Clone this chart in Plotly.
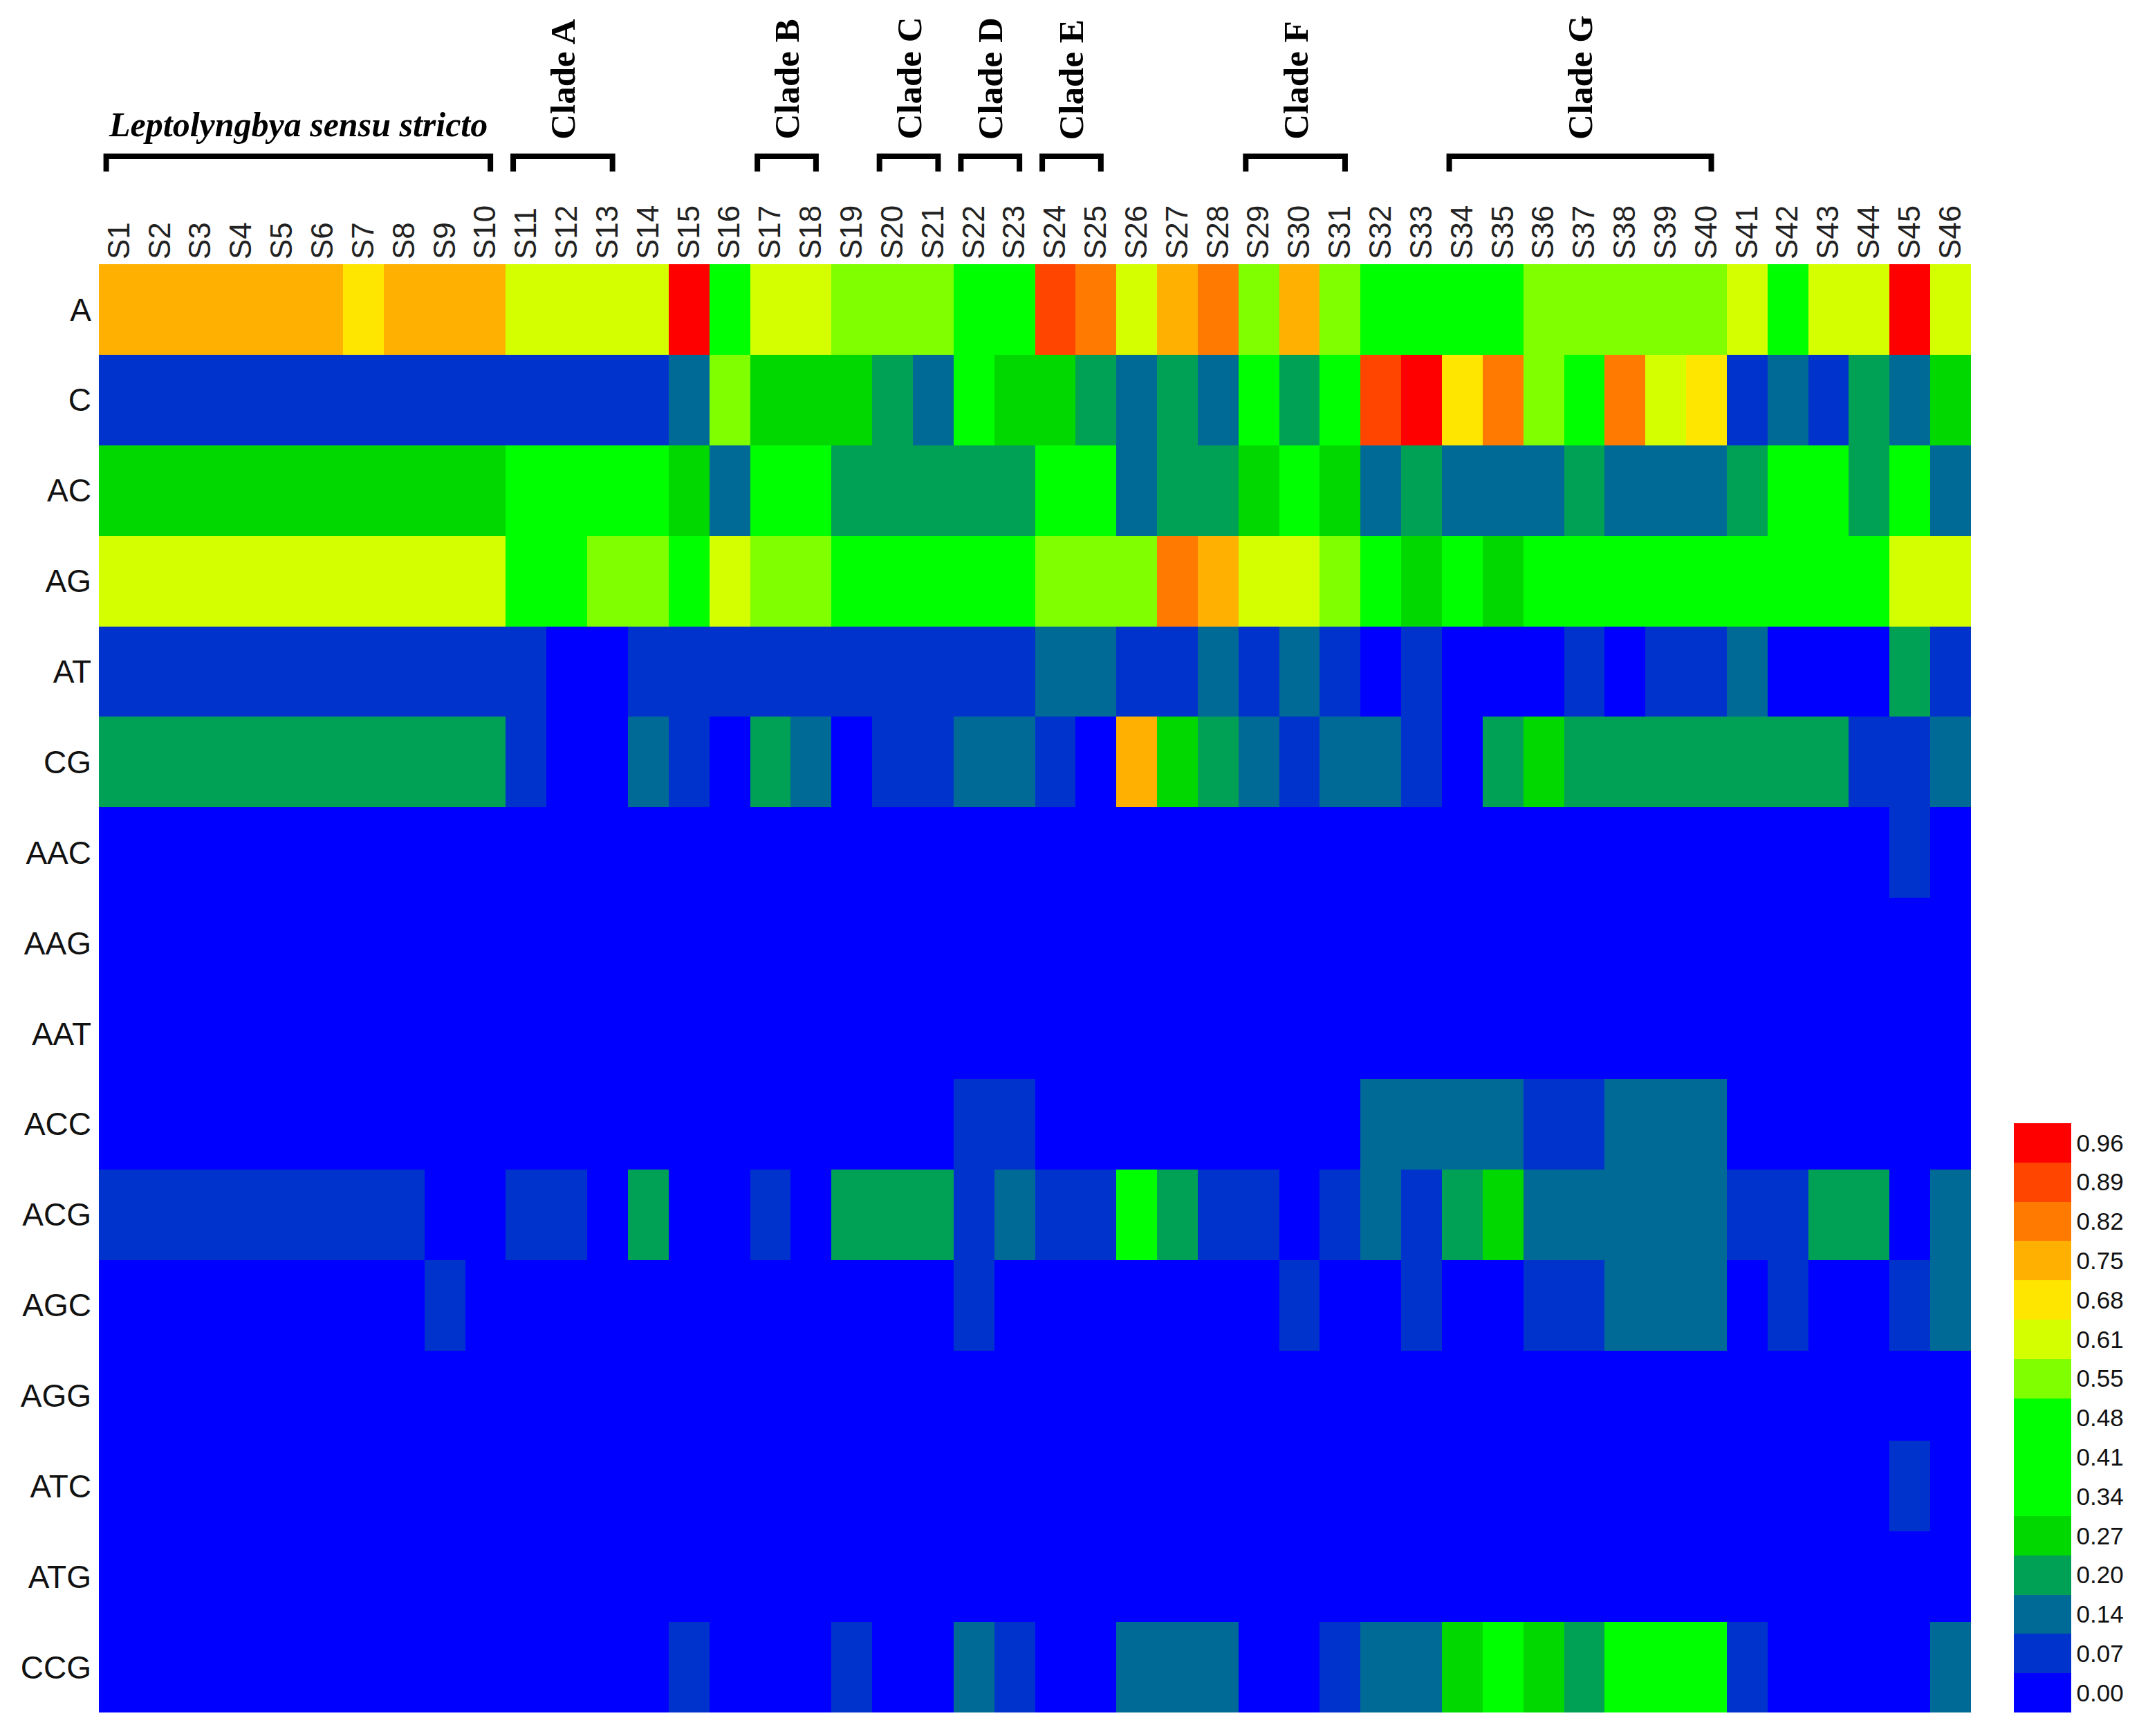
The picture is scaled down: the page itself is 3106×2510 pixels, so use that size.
import plotly.graph_objects as go

# ---------------- data ----------------
samples = [f"S{i}" for i in range(1, 47)]
rows = ["A", "C", "AC", "AG", "AT", "CG", "AAC", "AAG", "AAT", "ACC", "ACG",
        "AGC", "AGG", "ATC", "ATG", "CCG"]

#        S1   S2   S3   S4   S5   S6   S7   S8   S9   S10  S11  S12  S13  S14  S15  S16  S17  S18  S19  S20  S21  S22  S23  S24  S25  S26  S27  S28  S29  S30  S31  S32  S33  S34  S35  S36  S37  S38  S39  S40  S41  S42  S43  S44  S45  S46
row_A = [0.75,0.75,0.75,0.75,0.75,0.75,0.68,0.75,0.75,0.75,0.61,0.61,0.61,0.61,0.96,0.41,0.61,0.61,0.55,0.55,0.55,0.41,0.41,0.89,0.82,0.61,0.75,0.82,0.55,0.75,0.55,0.41,0.41,0.41,0.41,0.55,0.55,0.55,0.55,0.55,0.61,0.41,0.61,0.61,0.96,0.61]
row_C = [0.07,0.07,0.07,0.07,0.07,0.07,0.07,0.07,0.07,0.07,0.07,0.07,0.07,0.07,0.14,0.55,0.27,0.27,0.27,0.20,0.14,0.41,0.27,0.27,0.20,0.14,0.20,0.14,0.41,0.20,0.41,0.89,0.96,0.68,0.82,0.55,0.41,0.82,0.61,0.68,0.07,0.14,0.07,0.20,0.14,0.27]
row_AC = [0.27,0.27,0.27,0.27,0.27,0.27,0.27,0.27,0.27,0.27,0.41,0.41,0.41,0.41,0.27,0.14,0.41,0.41,0.20,0.20,0.20,0.20,0.20,0.41,0.41,0.14,0.20,0.20,0.27,0.41,0.27,0.14,0.20,0.14,0.14,0.14,0.20,0.14,0.14,0.14,0.20,0.41,0.41,0.20,0.41,0.14]
row_AG = [0.61,0.61,0.61,0.61,0.61,0.61,0.61,0.61,0.61,0.61,0.41,0.41,0.55,0.55,0.41,0.61,0.55,0.55,0.41,0.41,0.41,0.41,0.41,0.55,0.55,0.55,0.82,0.75,0.61,0.61,0.55,0.41,0.27,0.41,0.27,0.41,0.41,0.41,0.41,0.41,0.41,0.41,0.41,0.41,0.61,0.61]
row_AT = [0.07,0.07,0.07,0.07,0.07,0.07,0.07,0.07,0.07,0.07,0.07,0.00,0.00,0.07,0.07,0.07,0.07,0.07,0.07,0.07,0.07,0.07,0.07,0.14,0.14,0.07,0.07,0.14,0.07,0.14,0.07,0.00,0.07,0.00,0.00,0.00,0.07,0.00,0.07,0.07,0.14,0.00,0.00,0.00,0.20,0.07]
row_CG = [0.20,0.20,0.20,0.20,0.20,0.20,0.20,0.20,0.20,0.20,0.07,0.00,0.00,0.14,0.07,0.00,0.20,0.14,0.00,0.07,0.07,0.14,0.14,0.07,0.00,0.75,0.27,0.20,0.14,0.07,0.14,0.14,0.07,0.00,0.20,0.27,0.20,0.20,0.20,0.20,0.20,0.20,0.20,0.07,0.07,0.14]
row_AAC = [0.00,0.00,0.00,0.00,0.00,0.00,0.00,0.00,0.00,0.00,0.00,0.00,0.00,0.00,0.00,0.00,0.00,0.00,0.00,0.00,0.00,0.00,0.00,0.00,0.00,0.00,0.00,0.00,0.00,0.00,0.00,0.00,0.00,0.00,0.00,0.00,0.00,0.00,0.00,0.00,0.00,0.00,0.00,0.00,0.07,0.00]
row_AAG = [0.00,0.00,0.00,0.00,0.00,0.00,0.00,0.00,0.00,0.00,0.00,0.00,0.00,0.00,0.00,0.00,0.00,0.00,0.00,0.00,0.00,0.00,0.00,0.00,0.00,0.00,0.00,0.00,0.00,0.00,0.00,0.00,0.00,0.00,0.00,0.00,0.00,0.00,0.00,0.00,0.00,0.00,0.00,0.00,0.00,0.00]
row_AAT = [0.00,0.00,0.00,0.00,0.00,0.00,0.00,0.00,0.00,0.00,0.00,0.00,0.00,0.00,0.00,0.00,0.00,0.00,0.00,0.00,0.00,0.00,0.00,0.00,0.00,0.00,0.00,0.00,0.00,0.00,0.00,0.00,0.00,0.00,0.00,0.00,0.00,0.00,0.00,0.00,0.00,0.00,0.00,0.00,0.00,0.00]
row_ACC = [0.00,0.00,0.00,0.00,0.00,0.00,0.00,0.00,0.00,0.00,0.00,0.00,0.00,0.00,0.00,0.00,0.00,0.00,0.00,0.00,0.00,0.07,0.07,0.00,0.00,0.00,0.00,0.00,0.00,0.00,0.00,0.14,0.14,0.14,0.14,0.07,0.07,0.14,0.14,0.14,0.00,0.00,0.00,0.00,0.00,0.00]
row_ACG = [0.07,0.07,0.07,0.07,0.07,0.07,0.07,0.07,0.00,0.00,0.07,0.07,0.00,0.20,0.00,0.00,0.07,0.00,0.20,0.20,0.20,0.07,0.14,0.07,0.07,0.41,0.20,0.07,0.07,0.00,0.07,0.14,0.07,0.20,0.27,0.14,0.14,0.14,0.14,0.14,0.07,0.07,0.20,0.20,0.00,0.14]
row_AGC = [0.00,0.00,0.00,0.00,0.00,0.00,0.00,0.00,0.07,0.00,0.00,0.00,0.00,0.00,0.00,0.00,0.00,0.00,0.00,0.00,0.00,0.07,0.00,0.00,0.00,0.00,0.00,0.00,0.00,0.07,0.00,0.00,0.07,0.00,0.00,0.07,0.07,0.14,0.14,0.14,0.00,0.07,0.00,0.00,0.07,0.14]
row_AGG = [0.00,0.00,0.00,0.00,0.00,0.00,0.00,0.00,0.00,0.00,0.00,0.00,0.00,0.00,0.00,0.00,0.00,0.00,0.00,0.00,0.00,0.00,0.00,0.00,0.00,0.00,0.00,0.00,0.00,0.00,0.00,0.00,0.00,0.00,0.00,0.00,0.00,0.00,0.00,0.00,0.00,0.00,0.00,0.00,0.00,0.00]
row_ATC = [0.00,0.00,0.00,0.00,0.00,0.00,0.00,0.00,0.00,0.00,0.00,0.00,0.00,0.00,0.00,0.00,0.00,0.00,0.00,0.00,0.00,0.00,0.00,0.00,0.00,0.00,0.00,0.00,0.00,0.00,0.00,0.00,0.00,0.00,0.00,0.00,0.00,0.00,0.00,0.00,0.00,0.00,0.00,0.00,0.07,0.00]
row_ATG = [0.00,0.00,0.00,0.00,0.00,0.00,0.00,0.00,0.00,0.00,0.00,0.00,0.00,0.00,0.00,0.00,0.00,0.00,0.00,0.00,0.00,0.00,0.00,0.00,0.00,0.00,0.00,0.00,0.00,0.00,0.00,0.00,0.00,0.00,0.00,0.00,0.00,0.00,0.00,0.00,0.00,0.00,0.00,0.00,0.00,0.00]
row_CCG = [0.00,0.00,0.00,0.00,0.00,0.00,0.00,0.00,0.00,0.00,0.00,0.00,0.00,0.00,0.07,0.00,0.00,0.00,0.07,0.00,0.00,0.14,0.07,0.00,0.00,0.14,0.14,0.14,0.00,0.00,0.07,0.14,0.14,0.27,0.41,0.27,0.20,0.41,0.41,0.41,0.07,0.00,0.00,0.00,0.00,0.14]

colorbar_labels = ["0.00", "0.07", "0.14", "0.20", "0.27", "0.34", "0.41", "0.48",
                   "0.55", "0.61", "0.68", "0.75", "0.82", "0.89", "0.96"]
band_colors = ["#0000FF", "#0033CC", "#006A96", "#00A055", "#00D800", "#00FF00",
               "#00FF00", "#00FF00", "#7FFF00", "#D4FF00", "#FFE600", "#FFB000",
               "#FF7A00", "#FF4500", "#FF0000"]

# groups: (label, first sample, last sample)
groups = [("Leptolyngbya sensu stricto", 1, 10), ("Clade A", 11, 13),
          ("Clade B", 17, 18), ("Clade C", 20, 21), ("Clade D", 22, 23),
          ("Clade E", 24, 25), ("Clade F", 29, 31), ("Clade G", 34, 40)]

# ---------------- figure ----------------
Z = [row_A, row_C, row_AC, row_AG, row_AT, row_CG, row_AAC, row_AAG, row_AAT,
     row_ACC, row_ACG, row_AGC, row_AGG, row_ATC, row_ATG, row_CCG]

n = len(band_colors)
step = 0.96 / (n - 1)
zmin = -0.5 * step
zmax = (n - 0.5) * step
cs = []
for i, c in enumerate(band_colors):
    cs.append([i / n, c])
    cs.append([(i + 1) / n, c])

OFF = 8  # page body margin offset
W, H = 3106 - OFF, 2510 - OFF
LEFT, RIGHT, TOP, BOTTOM = 143, 2850, 382, 2476   # plot area in page pixels
ML = LEFT - OFF
MT = TOP - OFF
MR = OFF + W - RIGHT
MB = OFF + H - BOTTOM
PH = BOTTOM - TOP
PW = RIGHT - LEFT

def py(pix):
    return (BOTTOM - pix) / PH

SANS = "Liberation Sans, Arial, sans-serif"
SERIF = "Liberation Serif, Times New Roman, serif"

fig = go.Figure(go.Heatmap(
    z=Z, x=samples, y=rows, colorscale=cs, zmin=zmin, zmax=zmax,
    xgap=0, ygap=0,
    colorbar=dict(
        tickvals=[i * step for i in range(n)], ticktext=colorbar_labels,
        thickness=83, thicknessmode="pixels", len=852, lenmode="pixels",
        x=(2912 - LEFT) / PW, xanchor="left", y=0, yanchor="bottom",
        xpad=0, ypad=0, outlinewidth=0, ticks="",
        tickfont=dict(size=35, family=SANS, color="#111"),
    ),
))

shapes = []
annotations = []
for label, a, b in groups:
    x0 = a - 1 - 0.5 + 0.18
    x1 = b - 1 + 0.12
    yt = py(226)
    yb = py(248)
    shapes.append(dict(type="path", xref="x", yref="paper",
                       path=f"M {x0},{yb} L {x0},{yt} L {x1},{yt} L {x1},{yb}",
                       line=dict(color="black", width=8)))
    xm = (x0 + x1) / 2
    if label.startswith("Clade"):
        annotations.append(dict(text=f"<b>{label}</b>", x=xm, y=py(204), xref="x",
                                yref="paper", textangle=-90, showarrow=False,
                                xanchor="center", yanchor="bottom",
                                font=dict(size=51, family=SERIF, color="black")))
    else:
        annotations.append(dict(text=f"<b><i>{label}</i></b>", x=xm, y=py(210),
                                xref="x", yref="paper", showarrow=False,
                                xanchor="center", yanchor="bottom",
                                font=dict(size=50, family=SERIF, color="black")))

fig.update_layout(
    width=W, height=H,
    margin=dict(l=ML, r=MR, t=MT, b=MB, autoexpand=False),
    paper_bgcolor="white", plot_bgcolor="white",
    shapes=shapes, annotations=annotations,
    xaxis=dict(side="top", tickangle=-90, showgrid=False, zeroline=False,
               ticks="", tickfont=dict(size=44, family=SANS, color="#222"),
               ticklabelstandoff=6),
    yaxis=dict(autorange="reversed", showgrid=False, zeroline=False, ticks="",
               tickfont=dict(size=46, family=SANS, color="#111"),
               ticklabelstandoff=10),
)

fig.write_html("out.html")
